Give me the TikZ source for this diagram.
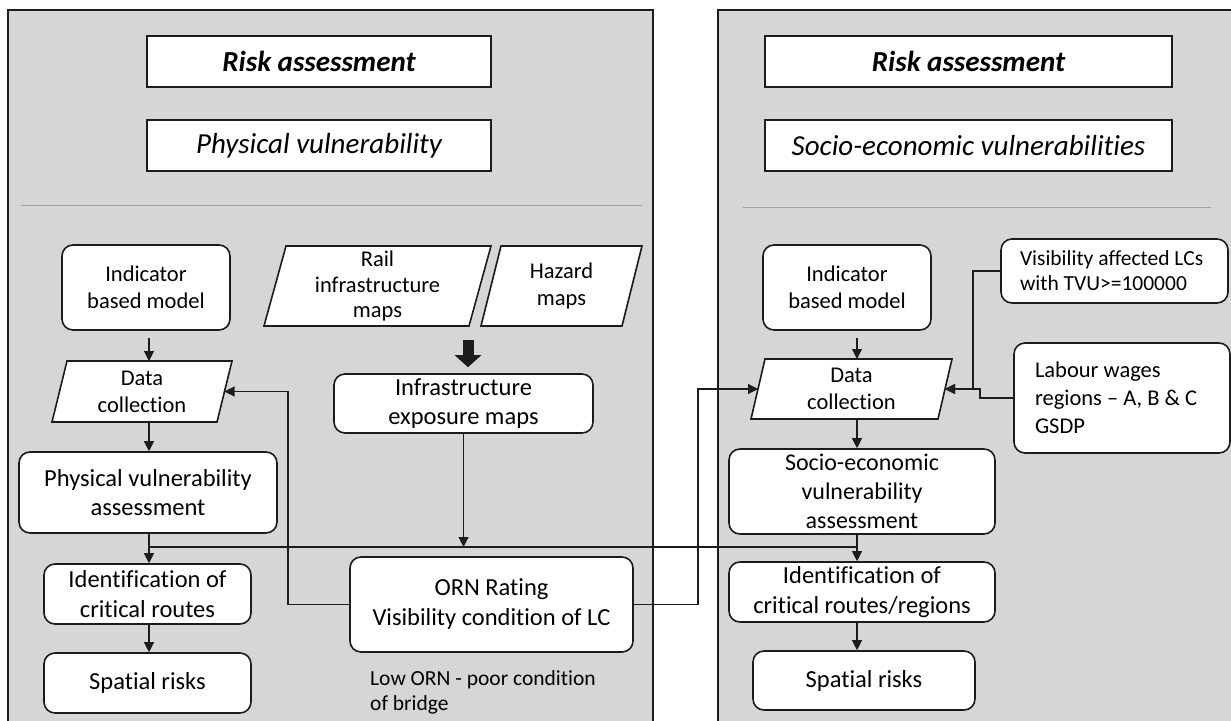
\documentclass[tikz,border=0pt]{standalone}
\usepackage{fontspec}
\setmainfont{Carlito}[Ligatures=NoCommon]
\usetikzlibrary{arrows.meta}
\pgfdeclarelayer{bg}
\pgfsetlayers{bg,main}
\definecolor{panel}{RGB}{214,214,214}
\definecolor{ink}{RGB}{28,28,28}
\begin{document}
\begin{tikzpicture}[x=1pt,y=-1pt,
  fbig/.style={font=\fontsize{24.5}{29.5}\selectfont},
  fmid/.style={font=\fontsize{22.5}{27}\selectfont},
  fsmall/.style={font=\fontsize{21.5}{25}\selectfont},
  ftitle/.style={font=\fontsize{29}{33}\selectfont\itshape},
  rbox/.style={draw=ink, line width=1.6pt, fill=white, rounded corners=11pt, align=center, inner sep=1pt},
  tbox/.style={draw=ink, line width=1.8pt, fill=white, align=center, inner sep=1pt, minimum height=51pt},
  pgram/.style={align=center, inner sep=1pt, outer sep=0pt},
  pgdraw/.style={draw=ink, line width=1.6pt, fill=white, line join=miter},
  conn/.style={draw=ink, line width=1.1pt},
  arr/.style={conn, -{Triangle[length=10pt,width=10pt]}},
  blockarr/.style={draw=ink, line width=11pt, -{Triangle[length=12pt,width=26pt]}},
  panelbox/.style={fill=panel, draw=ink, line width=1.8pt},
  sep/.style={draw=gray!75, line width=0.8pt}
]
\useasboundingbox (0,0) rectangle (1231,720);

% ---- titles
\node[tbox, ftitle, minimum width=344pt] (titleL1) at (319,61.5) {\bfseries Risk assessment};
\node[tbox, ftitle, minimum width=344pt] (titleL2) at (319,145.5) {Physical vulnerability};
\node[tbox, ftitle, minimum width=407pt] (titleR1) at (968.5,61.5) {\bfseries Risk assessment};
\node[tbox, ftitle, minimum width=407pt] (titleR2) at (968.5,145.5) {Socio-economic vulnerabilities};

% ---- left column
\node[rbox, fmid, minimum width=168pt, minimum height=85pt] (indL) at (146,287.5) {Indicator\\based model};
\node[pgram, fmid, minimum width=180pt, minimum height=61pt] (dcL) at (142,391.5) {Data\\collection};
\node[rbox, fbig, minimum width=258pt, minimum height=81pt] (physL) at (148,492.5) {Physical vulnerability\\assessment};
\node[rbox, fbig, minimum width=207pt, minimum height=60pt] (identL) at (147.5,594) {Identification of\\critical routes};
\node[rbox, fbig, minimum width=207pt, minimum height=60pt] (spatL) at (147.5,683) {Spatial risks};

% ---- middle column
\node[pgram, font=\fontsize{22.5}{25.5}\selectfont, minimum width=227pt, minimum height=80pt] (rail) at (377.5,286) {Rail\\infrastructure\\maps};
\node[pgram, fmid, minimum width=161pt, minimum height=80pt] (haz) at (561.5,286) {Hazard\\maps};
\node[rbox, fbig, minimum width=259pt, minimum height=59pt] (infra) at (463.5,403.5) {Infrastructure\\exposure maps};
\node[rbox, font=\fontsize{24.5}{30}\selectfont, minimum width=283pt, minimum height=95pt, text depth=4pt] (orn) at (491.5,604.5) {ORN Rating\\Visibility condition of LC};
\node[fsmall, align=flush left, anchor=north west, inner sep=0pt] (low) at (370,670) {Low ORN - poor condition\\of bridge};

% ---- right column
\node[rbox, fmid, minimum width=168pt, minimum height=85pt] (indR) at (847,287.5) {Indicator\\based model};
\node[pgram, fmid, minimum width=201pt, minimum height=60pt] (dcR) at (851.5,389) {Data\\collection};
\node[rbox, font=\fontsize{24}{29}\selectfont, minimum width=266pt, minimum height=85pt] (socR) at (862,491.5) {Socio-economic\\vulnerability\\assessment};
\node[rbox, fbig, minimum width=266pt, minimum height=60pt] (identR) at (862,592) {Identification of\\critical routes/regions};
\node[rbox, fbig, minimum width=222pt, minimum height=59pt] (spatR) at (864,680.5) {Spatial risks};
\node[rbox, fsmall, align=flush left, text width=189pt, inner xsep=19pt, minimum height=64pt] (visR) at (1114.5,271) {Visibility affected LCs\\with TVU>=100000};
\node[rbox, font=\fontsize{22.5}{28}\selectfont, align=flush left, text width=174pt, inner xsep=21pt, minimum height=110pt] (labR) at (1122,398) {Labour wages\\regions – A, B \& C\\GSDP};

% ---- background: panels and parallelograms
\begin{pgfonlayer}{bg}
  \fill[white] (0,0) rectangle (1231,720);
  \path[panelbox] (8,10) rectangle (653,730);
  \path[panelbox] (718,10) rectangle (1245,730);
  \path[sep] (21,205) -- (642,205);
  \path[sep] (743,207) -- (1211,207);
  \path[pgdraw] (dcL.south west) -- ([xshift=15pt]dcL.north west) -- (dcL.north east) -- ([xshift=-15pt]dcL.south east) -- cycle;
  \path[pgdraw] (dcR.south west) -- ([xshift=14pt]dcR.north west) -- (dcR.north east) -- ([xshift=-14pt]dcR.south east) -- cycle;
  \path[pgdraw] (rail.south west) -- ([xshift=22pt]rail.north west) -- (rail.north east) -- ([xshift=-22pt]rail.south east) -- cycle;
  \path[pgdraw] (haz.south west) -- ([xshift=20pt]haz.north west) -- (haz.north east) -- ([xshift=-20pt]haz.south east) -- cycle;
\end{pgfonlayer}

% ---- helper coordinates
\coordinate (cL) at (149,0);
\coordinate (cR) at (857,0);
\coordinate (jy) at (0,547);
\coordinate (fbL) at (288,0);
\coordinate (fbR) at (698,0);
\coordinate (v1) at (973,0);
\coordinate (l1) at (980,0);
\coordinate (ba) at (468,340);
\coordinate (dcLe) at ([xshift=-7.5pt]dcL.east);
\coordinate (dcRw) at ([xshift=7pt]dcR.west);
\coordinate (dcRe) at ([xshift=-7pt]dcR.east);

% ---- connectors, left
\draw[arr, shorten <=7pt] (cL |- indL.south) -- (cL |- dcL.north);
\draw[arr] (cL |- dcL.south) -- (cL |- physL.north);
\draw[arr] (cL |- physL.south) -- (cL |- identL.north);
\draw[arr] (cL |- identL.south) -- (cL |- spatL.north);
\draw[conn] (cL |- jy) -- (cR |- jy);
\draw[blockarr, shorten >=6pt] (ba) -- (ba |- infra.north);
\draw[arr] (infra.south) -- (infra.south |- jy);
\draw[arr] (orn.west) -| (fbL |- dcLe) -- (dcLe);
\draw[arr] (orn.east) -| (fbR |- dcRw) -- (dcRw);

% ---- connectors, right
\draw[arr, shorten <=7pt] (cR |- indR.south) -- (cR |- dcR.north);
\draw[arr] (cR |- dcR.south) -- (cR |- socR.north);
\draw[arr] (cR |- socR.south) -- (cR |- identR.north);
\draw[arr] (cR |- identR.south) -- (cR |- spatR.north);
\draw[arr] (visR.west) -| (v1 |- dcRe) -- (dcRe);
\draw[arr] (labR.west) -| (l1 |- dcRe) -- (dcRe);
\end{tikzpicture}
\end{document}
